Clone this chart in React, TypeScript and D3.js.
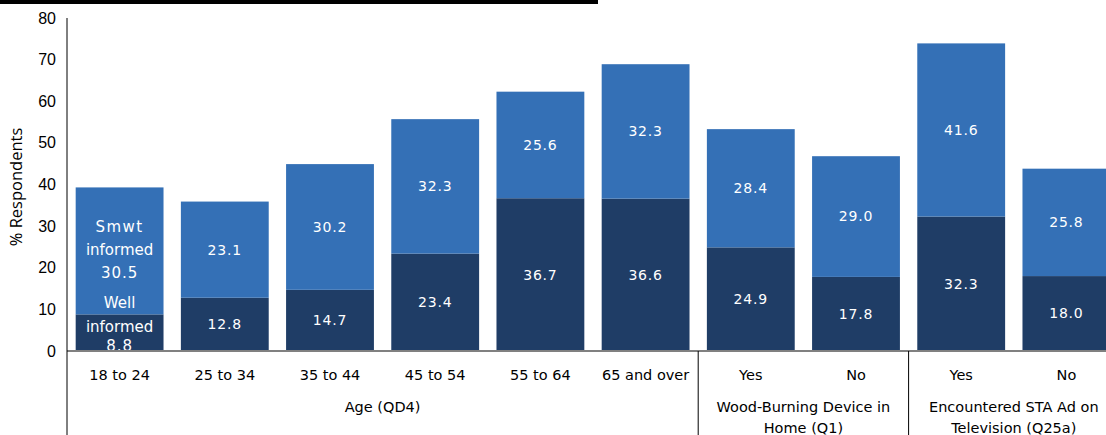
import React from "react";
import * as d3 from "d3";

const categories = ["18 to 24", "25 to 34", "35 to 44", "45 to 54", "55 to 64", "65 and over", "Yes", "No", "Yes", "No"];
const wellInformed = [8.8, 12.8, 14.7, 23.4, 36.7, 36.6, 24.9, 17.8, 32.3, 18.0];
const smwtInformed = [30.5, 23.1, 30.2, 32.3, 25.6, 32.3, 28.4, 29.0, 41.6, 25.8];
const yTicks = [0, 10, 20, 30, 40, 50, 60, 70, 80];
const groups = [
  { lines: ["Age (QD4)"], from: 0, to: 5 },
  { lines: ["Wood-Burning Device in", "Home (Q1)"], from: 6, to: 7 },
  { lines: ["Encountered STA Ad on", "Television (Q25a)"], from: 8, to: 9 },
];

const W = 1106, H = 435;
const LIGHT = "#3470B6";
const DARK = "#1F3D66";
const FONT = "'DejaVu Sans', Verdana, sans-serif";

export default function App() {
  const x = d3.scaleBand<number>().domain(d3.range(categories.length)).range([67, 1119]).paddingInner(0.165).paddingOuter(0.0825);
  const y = d3.scaleLinear().domain([0, 80]).range([351, 18]);
  const step = x.step();
  const bandStart = (i: number) => 67 + i * step;

  return (
    <svg width={W} height={H} style={{ position: "absolute", left: 0, top: 0, display: "block" }}>
      <rect x={0} y={0} width={598} height={4} fill="#000" />
      {categories.map((c, i) => {
        const x0 = x(i)!;
        const bw = x.bandwidth();
        const w = wellInformed[i];
        const s = smwtInformed[i];
        const cx = x0 + bw / 2;
        return (
          <g key={i}>
            <rect x={x0} y={y(w)} width={bw} height={y(0) - y(w)} fill={DARK} />
            <rect x={x0} y={y(w + s)} width={bw} height={y(w) - y(w + s)} fill={LIGHT} />
            {i === 0 ? (
              <g fill="#fff" fontFamily={FONT} fontSize={15} textAnchor="middle">
                <text x={cx} y={y(w + s / 2) - 24} dy="0.35em" letterSpacing="1.5">Smwt</text>
                <text x={cx} y={y(w + s / 2) - 1} dy="0.35em">informed</text>
                <text x={cx} y={y(w + s / 2) + 22} dy="0.35em" letterSpacing="1">{s.toFixed(1)}</text>
                <text x={cx} y={y(w) - 12} dy="0.35em">Well</text>
                <text x={cx} y={y(w) + 12} dy="0.35em">informed</text>
                <text x={cx} y={y(w) + 31} dy="0.35em" letterSpacing="1">{w.toFixed(1)}</text>
              </g>
            ) : (
              <g fill="#fff" fontFamily={FONT} fontSize={14} textAnchor="middle" letterSpacing="0.8">
                <text x={cx} y={y(w + s / 2)} dy="0.35em">{s.toFixed(1)}</text>
                <text x={cx} y={y(w / 2)} dy="0.35em">{w.toFixed(1)}</text>
              </g>
            )}
            <text x={cx} y={380} textAnchor="middle" fontFamily={FONT} fontSize={14.5} fill="#000">{c}</text>
          </g>
        );
      })}
      <line x1={67} x2={W} y1={351} y2={351} stroke="#808080" strokeWidth={2} />
      <line x1={67} x2={67} y1={18} y2={H} stroke="#000" strokeWidth={1} />
      {[6, 8].map((i) => (
        <line key={i} x1={bandStart(i)} x2={bandStart(i)} y1={351} y2={H} stroke="#000" strokeWidth={1} />
      ))}
      {yTicks.map((t) => (
        <text key={t} x={56} y={y(t)} dy="0.35em" textAnchor="end" fontFamily="'Liberation Sans', Arial, sans-serif" fontSize={16} fill="#000">{t}</text>
      ))}
      <text transform={`translate(22,187) rotate(-90)`} textAnchor="middle" fontFamily="'Open Sans', sans-serif" fontSize={16.5} fill="#000">% Respondents</text>
      {groups.map((g, gi) => {
        const cx = (bandStart(g.from) + bandStart(g.to + 1)) / 2;
        return (
          <g key={gi}>
            {g.lines.map((l, li) => (
              <text key={li} x={cx} y={412 + li * 21} textAnchor="middle" fontFamily={FONT} fontSize={14.5} fill="#000">{l}</text>
            ))}
          </g>
        );
      })}
    </svg>
  );
}
